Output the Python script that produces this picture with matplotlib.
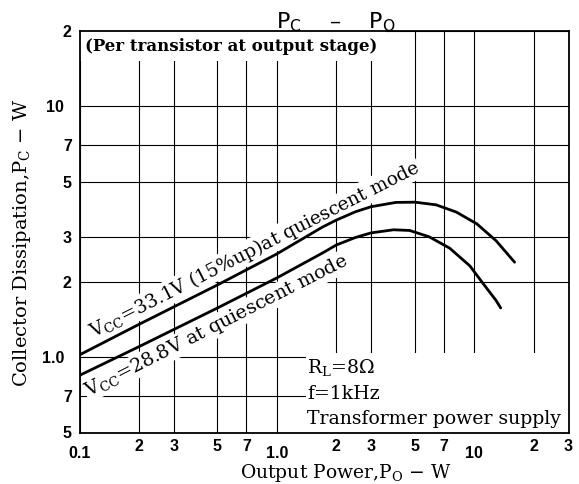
import math
import matplotlib
matplotlib.use("Agg")
import matplotlib.pyplot as plt
from matplotlib.patches import Rectangle
from matplotlib.ticker import FixedLocator, FixedFormatter

# ---------------- data ----------------
po_331v = [0.1, 0.2, 0.5, 1.0, 1.7, 2.0, 2.5, 3.0, 4.0, 5.0, 6.4, 8.1, 10.3, 12.9, 16.0]
pc_331v = [1.02, 1.35, 1.94, 2.58, 3.3, 3.52, 3.8, 3.98, 4.14, 4.15, 4.05, 3.79, 3.4, 2.91, 2.39]

po_288v = [0.1, 0.2, 0.5, 1.0, 1.7, 2.0, 2.5, 3.0, 3.9, 4.7, 5.9, 7.5, 9.5, 11.0, 12.9, 13.6]
pc_288v = [0.845, 1.1, 1.57, 2.07, 2.6, 2.8, 3.0, 3.13, 3.22, 3.2, 3.02, 2.72, 2.31, 1.98, 1.68, 1.57]

x_major = [0.1, 1.0, 10]
x_major_labels = ["0.1", "1.0", "10"]
x_minor = [0.2, 0.3, 0.5, 0.7, 2, 3, 5, 7, 20, 30]
x_minor_labels = ["2", "3", "5", "7", "2", "3", "5", "7", "2", "3"]
y_major = [1.0, 10]
y_major_labels = ["1.0", "10"]
y_minor = [0.5, 0.7, 2, 3, 5, 7, 20]
y_minor_labels = ["5", "7", "2", "3", "5", "7", "2"]

title_text = r"$\mathsf{P_C}$    –    $\mathsf{P_O}$"
xlabel_text = r"Output Power,P$_{\rm O}$ − W"
ylabel_text = r"Collector Dissipation,P$_{\rm C}$ − W"
label_331v = r"V$_{\rm CC}$=33.1V (15%up)at quiescent mode"
label_288v = r"V$_{\rm CC}$=28.8V at quiescent mode"
note_top = "(Per transistor at output stage)"
notes_bottom = [r"R$_{\rm L}$=8Ω", "f=1kHz", "Transformer power supply"]

# ---------------- figure ----------------
plt.rcParams["mathtext.fontset"] = "dejavuserif"
plt.rcParams["font.family"] = ["Liberation Sans Narrow", "Liberation Sans", "DejaVu Sans"]

W, H = 579, 484
fig = plt.figure(figsize=(W / 100, H / 100), dpi=100)
L, R, T, B = 79.5, 568.5, 31.0, 432.5
ax = fig.add_axes([L / W, 1 - B / H, (R - L) / W, (B - T) / H])
ax.set_xscale("log")
ax.set_yscale("log")
ax.set_xlim(0.1, 30)
ax.set_ylim(0.5, 20)

ax.xaxis.set_major_locator(FixedLocator(x_major))
ax.xaxis.set_major_formatter(FixedFormatter(x_major_labels))
ax.xaxis.set_minor_locator(FixedLocator(x_minor))
ax.xaxis.set_minor_formatter(FixedFormatter(x_minor_labels))
ax.yaxis.set_major_locator(FixedLocator(y_major))
ax.yaxis.set_major_formatter(FixedFormatter(y_major_labels))
ax.yaxis.set_minor_locator(FixedLocator(y_minor))
ax.yaxis.set_minor_formatter(FixedFormatter(y_minor_labels))

ax.tick_params(which="both", length=0, labelsize=11.5, colors="black")
ax.tick_params(axis="x", which="major", pad=9.5)
ax.tick_params(axis="x", which="minor", pad=4.5)
ax.tick_params(axis="y", which="major", pad=11.0)
ax.tick_params(axis="y", which="minor", pad=5.5)
for lbl in ax.get_xticklabels(which="both") + ax.get_yticklabels(which="both"):
    lbl.set_fontweight("bold")

ax.grid(which="both", color="black", linewidth=0.8)
for s in ax.spines.values():
    s.set_linewidth(1.3)
    s.set_zorder(6)

# curves
ax.plot(po_331v, pc_331v, color="black", lw=2.0, zorder=5, solid_capstyle="round")
ax.plot(po_288v, pc_288v, color="black", lw=2.0, zorder=5, solid_capstyle="round")

# white boxes behind notes
ax.add_patch(Rectangle((0, 0.925), 0.627, 0.075, transform=ax.transAxes,
                       facecolor="white", edgecolor="none", zorder=2.5))
ax.add_patch(Rectangle((0.463, 0), 0.537, 0.198, transform=ax.transAxes,
                       facecolor="white", edgecolor="none", zorder=2.5))

serif = "DejaVu Serif"
ax.text(0.011, 0.951, note_top, transform=ax.transAxes, ha="left", va="baseline",
        family=serif, fontweight="bold", fontsize=12, zorder=4)
for txt, yb in zip(notes_bottom, [0.148, 0.0844, 0.0212]):
    ax.text(0.466, yb, txt, transform=ax.transAxes, ha="left", va="baseline",
            family=serif, fontsize=13.6, zorder=4)

# rotated curve labels, angle from the data transform
p1 = ax.transData.transform((0.1, 1.0))
p2 = ax.transData.transform((1.0, 10 ** 0.4))
ang = math.degrees(math.atan2(p2[1] - p1[1], p2[0] - p1[0]))
bb = dict(facecolor="white", edgecolor="none", pad=0.5)
ax.text(0.117, 1.2, label_331v, rotation=ang, rotation_mode="anchor",
        ha="left", va="baseline", family=serif, fontsize=13.5, zorder=3, bbox=bb)
ax.text(0.1104, 0.695, label_288v, rotation=ang, rotation_mode="anchor",
        ha="left", va="baseline", family=serif, fontsize=13.8, zorder=3, bbox=bb)

# title and axis labels
fig.text(276 / W, 1 - 28 / H, title_text, ha="left", va="baseline",
         family="DejaVu Sans", fontsize=16)
fig.text(346 / W, 1 - 478.5 / H, xlabel_text, ha="center", va="baseline",
         family=serif, fontsize=13.5)
fig.text(22 / W, 1 - 243 / H, ylabel_text, ha="center", va="center", rotation=90,
         family=serif, fontsize=14)

fig.savefig("out.png", dpi=100)
